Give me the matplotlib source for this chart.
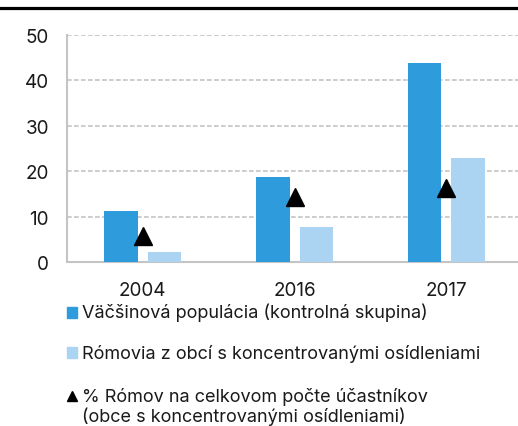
import numpy as np
import matplotlib
matplotlib.use("Agg")
import matplotlib.pyplot as plt
from matplotlib.lines import Line2D
from matplotlib.patches import Rectangle

plt.rcParams["font.family"] = ["Inter", "DejaVu Sans"]

years = ["2004", "2016", "2017"]
majority = [11.3, 18.8, 43.9]
roma = [2.1, 7.6, 22.8]
roma_share = [5.8, 14.4, 16.4]
labels = ["Väčšinová populácia (kontrolná skupina)",
          "Rómovia z obcí s koncentrovanými osídleniami",
          "% Rómov na celkovom počte účastníkov\n(obce s koncentrovanými osídleniami)"]

DARK, LIGHT = "#2e9bdc", "#abd3f2"
GRID = "#c4c4c4"
TXT = "#1a1a1a"
W, H = 518, 427
FS = 13.0
TFS = 13.6

fig = plt.figure(figsize=(W / 100, H / 100), dpi=100)
ax = fig.add_axes([67 / W, 1 - 263 / H, 1 - 67 / W, (263 - 36) / H])

x = np.arange(len(years))
bw = 0.22
ax.bar(x - 0.143, majority, bw, color=DARK, zorder=3)
ax.bar(x + 0.143, roma, bw, color=LIGHT, zorder=3)
ax.plot(x, roma_share, "^", color="black", ms=13, zorder=4, clip_on=False)

ax.set_xlim(-0.5, -0.5 + (W - 67) / 151.7)
ax.set_ylim(0, 50)
ax.set_yticks(range(0, 51, 10))
ax.set_xticks(x, years)
ax.tick_params(length=0, labelsize=TFS, colors=TXT)
ax.tick_params(axis="y", pad=13)
ax.tick_params(axis="x", pad=13.5)
ax.yaxis.grid(True, color=GRID, ls=(0, (2.8, 1.4)), lw=1.2, zorder=0)
for s in ["top", "right"]:
    ax.spines[s].set_visible(False)
for s in ["left", "bottom"]:
    ax.spines[s].set_color(GRID)
    ax.spines[s].set_linewidth(1.5)

# thick black rule across the top
fig.add_artist(Line2D([0, 1], [1 - 9 / H] * 2, color="black", lw=2.3))

# legend drawn by hand
def fy(py):
    return 1 - py / H

fig.add_artist(Rectangle((67 / W, fy(313.5 + 5)), 10 / W, 11 / H, color=DARK))
fig.text(82 / W, fy(313), labels[0], fontsize=FS, color=TXT, va="center")
fig.add_artist(Rectangle((67 / W, fy(354 + 5)), 10 / W, 11 / H, color=LIGHT))
fig.text(82 / W, fy(354), labels[1], fontsize=FS, color=TXT, va="center")
fig.add_artist(Line2D([71.5 / W], [fy(397)], marker="^", color="black", ms=6.5, ls="none"))
fig.text(82 / W, fy(397), labels[2].split("\n")[0], fontsize=FS, color=TXT, va="center")
fig.text(82 / W, fy(417), labels[2].split("\n")[1], fontsize=FS, color=TXT, va="center")

fig.savefig("out.png", dpi=100)
